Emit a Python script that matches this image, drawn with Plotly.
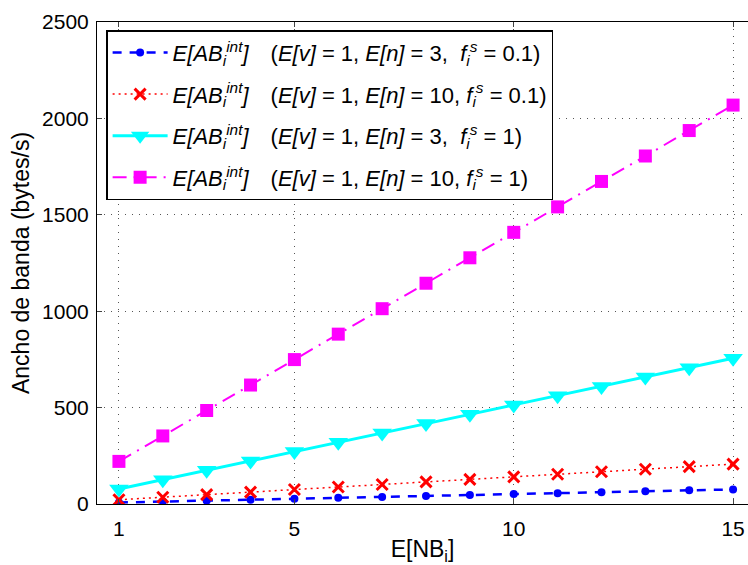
import plotly.graph_objects as go

x_vals = list(range(1, 16))
y_blue = [7.8, 12.6, 17.5, 22.3, 27.2, 32.0, 36.8, 41.7, 46.5, 51.4, 56.2, 61.0, 65.9, 70.7, 75.6]
y_red = [22.1, 35.3, 48.5, 61.7, 74.9, 88.1, 101.3, 114.5, 127.7, 140.9, 154.1, 167.3, 180.5, 193.7, 206.9]
y_cyan = [78, 126, 175, 223, 272, 320, 368, 417, 465, 514, 562, 610, 659, 707, 756]
y_magenta = [221, 353, 485, 617, 749, 881, 1013, 1145, 1277, 1409, 1541, 1673, 1805, 1937, 2069]

ab = "<i>E[AB<sub>i</sub><sup>int</sup>]</i>"
fs = "<i>f<sub>i</sub><sup>s</sup></i>"
names = [
    ab + "\u2003(<i>E[v]</i> = 1, <i>E[n]</i> = 3,  " + fs + " = 0.1)",
    ab + "\u2003(<i>E[v]</i> = 1, <i>E[n]</i> = 10, " + fs + " = 0.1)",
    ab + "\u2003(<i>E[v]</i> = 1, <i>E[n]</i> = 3,  " + fs + " = 1)",
    ab + "\u2003(<i>E[v]</i> = 1, <i>E[n]</i> = 10, " + fs + " = 1)",
]
x_ticks = [1, 5, 10, 15]
y_ticks = [0, 500, 1000, 1500, 2000, 2500]

fig = go.Figure()
fig.add_trace(go.Scatter(x=x_vals, y=y_blue, name=names[0], mode="lines+markers", legendgroup="a",
                         line=dict(color="#0000FF", width=2.5, dash="9px,8px"),
                         marker=dict(symbol="circle", size=8, color="#0000FF")))
fig.add_trace(go.Scatter(x=x_vals, y=y_red, name=names[1], mode="lines+markers", legendgroup="b",
                         line=dict(color="#FF0000", width=1.5, dash="2px,4px"),
                         marker=dict(symbol="x-thin", size=11, color="#FF0000",
                                     line=dict(color="#FF0000", width=3))))
fig.add_trace(go.Scatter(x=x_vals, y=y_cyan, name=names[2], mode="lines+markers", legendgroup="c",
                         line=dict(color="#00FFFF", width=3),
                         marker=dict(symbol="triangle-down", size=17, color="#00FFFF")))
fig.add_trace(go.Scatter(x=x_vals, y=y_magenta, name=names[3], mode="lines+markers", legendgroup="d",
                         line=dict(color="#FF00FF", width=2, dash="14px,7px,2px,7px"),
                         marker=dict(symbol="square", size=13, color="#FF00FF")))

font_family = "Liberation Sans, Arial, sans-serif"
fig.update_layout(
    width=748, height=565,
    margin=dict(l=97, r=0, t=22, b=61),
    paper_bgcolor="white", plot_bgcolor="white",
    font=dict(family=font_family, size=20, color="black"),
    showlegend=True,
    legend=dict(x=0.014, y=0.983, xanchor="left", yanchor="top",
                bgcolor="white", bordercolor="black", borderwidth=1.5,
                font=dict(size=22, family=font_family), itemwidth=55,
                tracegroupgap=10),
    xaxis=dict(range=[0.5, 15.34], tickvals=x_ticks, ticks="inside", ticklen=5,
               showline=True, linecolor="black", linewidth=1, mirror="ticks",
               showgrid=True, gridcolor="#555555", griddash="1px,6px", gridwidth=1,
               zeroline=False, tickfont=dict(size=21), ticklabelstandoff=6,
               title=dict(text="E[NB<sub>i</sub>]", font=dict(size=23), standoff=4)),
    yaxis=dict(range=[0, 2500], tickvals=y_ticks, ticks="inside", ticklen=5,
               showline=True, linecolor="black", linewidth=1,
               showgrid=True, gridcolor="#555555", griddash="1px,6px", gridwidth=1,
               zeroline=False, tickfont=dict(size=21), ticklabelstandoff=3,
               title=dict(text="Ancho de banda (bytes/s)", font=dict(size=23), standoff=6)),
)
fig.write_html("out.html")
